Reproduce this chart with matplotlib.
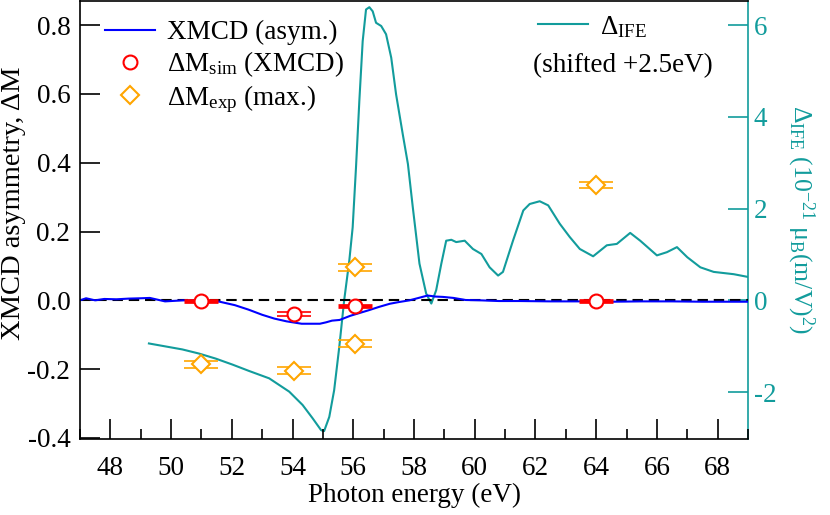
import numpy as np
import matplotlib
matplotlib.use("Agg")
import matplotlib.pyplot as plt
from matplotlib.lines import Line2D
from matplotlib.transforms import offset_copy

plt.rcParams['font.family'] = ['Liberation Serif', 'DejaVu Serif']
plt.rcParams['mathtext.fontset'] = 'custom'
plt.rcParams['mathtext.rm'] = 'Liberation Serif'
plt.rcParams['mathtext.it'] = 'Liberation Serif:italic'
plt.rcParams['mathtext.bf'] = 'Liberation Serif:bold'
plt.rcParams['axes.unicode_minus'] = False

# ---------------- data ----------------
xmcd_x = [47.0, 47.2, 47.5, 47.8, 48.2, 48.6, 49.0, 49.3, 49.8, 50.4,
          51.0, 51.6, 52.1, 52.55, 53.0, 53.4, 53.8, 54.3, 54.9, 55.1,
          55.3, 55.55, 55.9, 56.2, 56.5, 56.85, 57.2, 57.5, 57.85, 58.15,
          58.45, 58.7, 58.95, 59.3, 59.7, 60.2, 60.8, 61.5, 62.5, 63.5,
          64.5, 65.5, 66.5, 67.5, 68.5, 69.0]
xmcd_y = [0.0, 0.006, 0.0, 0.004, 0.003, 0.005, 0.006, 0.007, -0.003, 0.0,
          0.0, -0.004, -0.014, -0.027, -0.042, -0.053, -0.061, -0.068, -0.068, -0.064,
          -0.059, -0.057, -0.045, -0.037, -0.029, -0.019, -0.010, -0.005, 0.0, 0.007,
          0.014, 0.011, 0.010, 0.007, 0.001, 0.0, -0.002, -0.002, -0.003, -0.003,
          -0.004, -0.003, -0.003, -0.004, -0.004, -0.004]

ife_x = [49.27, 50.37, 50.92, 51.47, 52.02, 52.57, 53.23, 53.89, 54.33, 54.66,
         54.94, 55.04, 55.21, 55.37, 55.54, 55.70, 55.87, 55.98, 56.09, 56.2,
         56.31, 56.42, 56.53, 56.64, 56.75, 56.92, 57.08, 57.25, 57.41, 57.63,
         57.8, 57.96, 58.18, 58.4, 58.57, 58.73, 58.9, 59.06, 59.23, 59.39,
         59.67, 59.94, 60.22, 60.49, 60.77, 60.93, 61.26, 61.6, 61.81, 62.14,
         62.42, 62.8, 63.13, 63.46, 63.9, 64.35, 64.68, 65.12, 65.45, 66.0,
         66.33, 66.66, 67.0, 67.43, 67.87, 68.53, 69.0]
ife_y = [-0.94, -1.07, -1.16, -1.27, -1.40, -1.54, -1.70, -1.99, -2.28, -2.57,
         -2.83, -2.85, -2.54, -1.96, -1.01, 0.0, 0.87, 1.59, 2.9, 4.35,
         5.65, 6.34, 6.39, 6.3, 6.05, 5.98, 5.8, 5.29, 4.49, 3.62,
         2.97, 2.03, 0.8, 0.15, -0.07, 0.22, 0.8, 1.3, 1.32, 1.27,
         1.3, 1.12, 1.01, 0.72, 0.54, 0.62, 1.3, 1.96, 2.1, 2.16,
         2.07, 1.67, 1.38, 1.12, 0.96, 1.2, 1.23, 1.47, 1.3, 0.98,
         1.05, 1.16, 0.94, 0.72, 0.62, 0.57, 0.51]

sim_x = [51.0, 54.05, 56.07, 64.0]
sim_y = [-0.001, -0.039, -0.016, -0.002]
sim_xerr = [0.56, 0.56, 0.56, 0.56]

exp_x = [51.0, 54.05, 56.07, 56.07, 64.0]
exp_y = [-0.186, -0.204, 0.096, -0.126, 0.335]
exp_xerr = [0.56, 0.56, 0.56, 0.56, 0.56]

x_ticks = [48, 50, 52, 54, 56, 58, 60, 62, 64, 66, 68]
left_ticks = [-0.4, -0.2, 0.0, 0.2, 0.4, 0.6, 0.8]
right_ticks = [-2, 0, 2, 4, 6]

# ---------------- styling ----------------
BLUE = '#0000FF'
TEAL = '#129C9C'
RED = '#FF0000'
ORANGE = '#FFA500'
FS = 19.5

fig = plt.figure(figsize=(8.3, 5.15), dpi=100)
ax = fig.add_axes([80 / 830, 76 / 515, 668 / 830, 438 / 515])
ax2 = ax.twinx()
ax.set_zorder(ax2.get_zorder() + 1)
ax.patch.set_visible(False)

ax.set_xlim(47, 69)
ax.set_ylim(-0.403, 0.87)
ax2.set_ylim(-0.403 * 7.5, 0.87 * 7.5)

# IFE curve (right axis)
ax2.plot(ife_x, ife_y, color=TEAL, lw=1.5)

# zero line and XMCD
ax.axhline(0, color='black', lw=1.5, dashes=(5, 2.8), zorder=1.5)
ax.plot(xmcd_x, xmcd_y, color=BLUE, lw=1.5, zorder=1.8)

# experimental error bars (double-line style)
ex = np.array(exp_x)
ee = np.array(exp_xerr)
for dy in (2.3, -2.3):
    ax.hlines(exp_y, ex - ee, ex + ee, colors=ORANGE, lw=1.2, zorder=2.5,
              transform=offset_copy(ax.transData, fig=fig, y=dy, units='points'))
ax.plot(exp_x, exp_y, ls='none', marker='D', ms=9, mfc='white', mec=ORANGE, mew=1.5,
        zorder=3)

# simulated error bars
sx = np.array(sim_x)
se = np.array(sim_xerr)
solid = [0, 2, 3]
ax.hlines(np.array(sim_y)[solid], (sx - se)[solid], (sx + se)[solid], colors=RED,
          lw=3.4, zorder=2.5)
for dy in (1.6, -1.6):
    ax.hlines([sim_y[1]], [sx[1] - se[1]], [sx[1] + se[1]], colors=RED, lw=1.2, zorder=2.5,
              transform=offset_copy(ax.transData, fig=fig, y=dy, units='points'))
ax.plot(sim_x, sim_y, ls='none', marker='o', ms=10, mfc='white', mec=RED, mew=1.5,
        zorder=3)

# ticks
ax.set_xticks(x_ticks)
ax.set_xticks(np.arange(47, 70, 1), minor=True)
ax.set_yticks(left_ticks)
ax.set_yticklabels([f"{v:.1f}" for v in left_ticks])
ax.tick_params(axis='both', which='major', direction='in', length=14.4, width=1.2,
               labelsize=FS, colors='black')
ax.tick_params(axis='x', which='major', pad=12)
ax.tick_params(axis='y', which='major', pad=7)
ax.tick_params(axis='x', which='minor', direction='in', length=7.2, width=1.2)
ax.tick_params(axis='y', which='minor', left=False)
ax.tick_params(top=False, right=False)

ax2.set_yticks(right_ticks)
ax2.set_yticklabels([str(v) for v in right_ticks])
ax2.tick_params(axis='y', direction='in', length=14.4, width=1.2, labelsize=FS,
                colors=TEAL, pad=4)

for s in ('top', 'left', 'bottom'):
    ax.spines[s].set_linewidth(1.2)
    ax.spines[s].set_color('black')
ax.spines['right'].set_visible(False)
for s in ('top', 'left', 'bottom'):
    ax2.spines[s].set_visible(False)
ax2.spines['right'].set_color(TEAL)
ax2.spines['right'].set_linewidth(1.2)

# labels
ax.set_xlabel('Photon energy (eV)', fontsize=FS)
ax.xaxis.set_label_coords(0.5, -0.101)
ax.set_ylabel('XMCD asymmetry, ΔM', fontsize=20.5)
ax.yaxis.set_label_coords(-0.081, 0.539)
ax2.set_ylabel('Δ$_{\\rm IFE}$ (10$^{-21}$ μ$_{\\rm B}$(m/V)$^2$)', fontsize=18.5,
               color=TEAL, rotation=270, va='bottom')
ax2.yaxis.set_label_coords(1.056, 0.5)

# legends
h1 = [Line2D([], [], color=BLUE, lw=1.5),
      Line2D([], [], ls='none', marker='o', ms=10, mfc='white', mec=RED, mew=1.5),
      Line2D([], [], ls='none', marker='D', ms=9, mfc='white', mec=ORANGE, mew=1.5)]
l1 = ['XMCD (asym.)', 'ΔM$_{\\rm sim}$ (XMCD)', 'ΔM$_{\\rm exp}$ (max.)']
leg1 = ax.legend(h1, l1, loc='upper left', bbox_to_anchor=((105 - 80) / 668, 1 - 19 / 438),
                 frameon=False, fontsize=FS, handlelength=1.85, handletextpad=0.45,
                 labelspacing=0.15, borderpad=0, borderaxespad=0, numpoints=1)
ax.add_artist(leg1)
leg2 = ax.legend([Line2D([], [], color=TEAL, lw=1.5)], ['Δ$_{\\rm IFE}$'],
                 loc='upper left', bbox_to_anchor=((538 - 80) / 668, 1 - 13 / 438),
                 frameon=False, fontsize=FS, handlelength=1.85, handletextpad=0.45,
                 borderpad=0, borderaxespad=0)
ax.text((623 - 80) / 668, 1 - 65 / 438, '(shifted +2.5eV)', transform=ax.transAxes,
        ha='center', va='center', fontsize=FS)

fig.savefig('out.png', dpi=100)
